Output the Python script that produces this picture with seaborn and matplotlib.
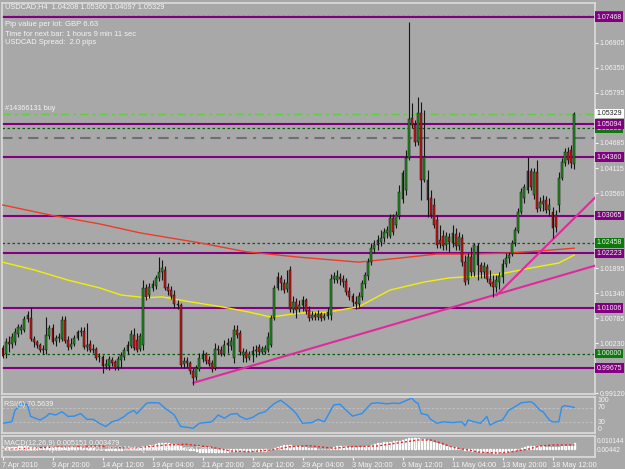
import numpy as np
import pandas as pd
import matplotlib
matplotlib.use('Agg')
import matplotlib.pyplot as plt
import seaborn as sns

# USDCAD H4 candles
opens = [1.0012, 0.9999, 1.0026, 1.0021, 1.0026, 1.0044, 1.0052, 1.0052, 1.0077, 1.0079,
         1.0032, 1.0026, 1.0019, 1.0008, 1.0008, 1.0039, 1.0057, 1.0028, 1.0035, 1.0032,
         1.0075, 1.0030, 1.0015, 1.0021, 1.0035, 1.0048, 1.0050, 1.0015, 1.0021, 1.0008,
         1.0010, 0.9993, 0.9993, 0.9973, 0.9973, 0.9986, 0.9981, 0.9970, 0.9986, 0.9993,
         1.0006, 1.0017, 1.0041, 1.0030, 1.0010, 1.0019, 1.0146, 1.0130, 1.0146, 1.0150,
         1.0168, 1.0181, 1.0186, 1.0148, 1.0141, 1.0130, 1.0110, 1.0108, 0.9977, 0.9984,
         0.9979, 0.9961, 0.9948, 0.9966, 0.9988, 0.9999, 0.9986, 0.9979, 0.9968, 1.0010,
         1.0008, 0.9999, 1.0019, 1.0017, 0.9990, 1.0052, 1.0046, 0.9997, 1.0004, 0.9990,
         0.9997, 1.0006, 1.0015, 1.0004, 1.0004, 1.0008, 1.0019, 1.0079, 1.0146, 1.0168,
         1.0157, 1.0143, 1.0186, 1.0099, 1.0115, 1.0099, 1.0108, 1.0119, 1.0097, 1.0079,
         1.0086, 1.0081, 1.0088, 1.0079, 1.0083, 1.0086, 1.0166, 1.0163, 1.0170, 1.0166,
         1.0161, 1.0139, 1.0128, 1.0115, 1.0110, 1.0126, 1.0155, 1.0172, 1.0203, 1.0232,
         1.0241, 1.0248, 1.0257, 1.0268, 1.0261, 1.0301, 1.0285, 1.0305, 1.0343, 1.0363,
         1.0434, 1.0523, 1.0508, 1.0470, 1.0534, 1.0385, 1.0385, 1.0345, 1.0330, 1.0297,
         1.0252, 1.0261, 1.0241, 1.0259, 1.0246, 1.0265, 1.0239, 1.0257, 1.0203, 1.0163,
         1.0215, 1.0181, 1.0239, 1.0197, 1.0181, 1.0192, 1.0166, 1.0159, 1.0148, 1.0159,
         1.0170, 1.0199, 1.0212, 1.0221, 1.0246, 1.0272, 1.0314, 1.0345, 1.0363, 1.0405,
         1.0352, 1.0403, 1.0323, 1.0339, 1.0341, 1.0319, 1.0314, 1.0308, 1.0330, 1.0390,
         1.0423, 1.0448, 1.0452, 1.04208]
highs = [1.0019, 1.0035, 1.0039, 1.0046, 1.0057, 1.0066, 1.0066, 1.0083, 1.0095, 1.0103,
         1.0039, 1.0030, 1.0024, 1.0019, 1.0081, 1.0064, 1.0066, 1.0041, 1.0046, 1.0083,
         1.0083, 1.0039, 1.0035, 1.0041, 1.0052, 1.0059, 1.0059, 1.0068, 1.0030, 1.0021,
         1.0015, 1.0001, 0.9997, 0.9988, 0.9995, 0.9993, 0.9986, 0.9995, 1.0004, 1.0015,
         1.0028, 1.0052, 1.0057, 1.0046, 1.0046, 1.0163, 1.0155, 1.0157, 1.0163, 1.0175,
         1.0215, 1.0208, 1.0195, 1.0157, 1.0150, 1.0141, 1.0119, 1.0112, 0.9993, 0.9993,
         0.9984, 0.9968, 0.9975, 1.0001, 1.0008, 1.0004, 0.9995, 0.9986, 1.0024, 1.0019,
         1.0017, 1.0030, 1.0035, 1.0037, 1.0064, 1.0064, 1.0052, 1.0012, 1.0010, 1.0006,
         1.0017, 1.0019, 1.0021, 1.0017, 1.0019, 1.0048, 1.0086, 1.0152, 1.0181, 1.0175,
         1.0166, 1.0186, 1.0195, 1.0128, 1.0123, 1.0119, 1.0128, 1.0123, 1.0106, 1.0095,
         1.0092, 1.0097, 1.0092, 1.0090, 1.0101, 1.0177, 1.0181, 1.0186, 1.0179, 1.0175,
         1.0168, 1.0148, 1.0135, 1.0128, 1.0137, 1.0163, 1.0181, 1.0212, 1.0246, 1.0252,
         1.0263, 1.0274, 1.0279, 1.0283, 1.0310, 1.0310, 1.0317, 1.0374, 1.0408, 1.0452,
         1.0736, 1.0556, 1.0519, 1.0570, 1.0559, 1.0541, 1.0408, 1.0363, 1.0345, 1.0308,
         1.0285, 1.0274, 1.0270, 1.0268, 1.0285, 1.0279, 1.0270, 1.0265, 1.0219, 1.0223,
         1.0237, 1.0246, 1.0246, 1.0203, 1.0203, 1.0199, 1.0186, 1.0175, 1.0175, 1.0181,
         1.0210, 1.0223, 1.0226, 1.0252, 1.0281, 1.0323, 1.0368, 1.0377, 1.0437, 1.0412,
         1.0412, 1.0430, 1.0348, 1.0352, 1.0350, 1.0345, 1.0325, 1.0319, 1.0403, 1.0434,
         1.0456, 1.0459, 1.0463, 1.05360]
lows = [0.9990, 0.9990, 1.0004, 1.0012, 1.0019, 1.0037, 1.0044, 1.0048, 1.0070, 1.0028,
        1.0015, 1.0012, 1.0004, 0.9999, 0.9999, 1.0032, 1.0021, 1.0017, 1.0026, 1.0028,
        1.0024, 1.0008, 1.0010, 1.0017, 1.0030, 1.0039, 1.0010, 1.0006, 1.0004, 1.0001,
        0.9986, 0.9981, 0.9957, 0.9966, 0.9964, 0.9973, 0.9964, 0.9964, 0.9968, 0.9986,
        0.9999, 1.0012, 1.0008, 1.0004, 1.0006, 1.0008, 1.0119, 1.0123, 1.0139, 1.0143,
        1.0161, 1.0163, 1.0141, 1.0130, 1.0121, 1.0101, 1.0099, 0.9970, 0.9968, 0.9970,
        0.9955, 0.9930, 0.9941, 0.9961, 0.9981, 0.9977, 0.9973, 0.9959, 0.9964, 0.9999,
        0.9995, 0.9995, 1.0001, 1.0008, 0.9979, 1.0035, 0.9997, 0.9981, 0.9981, 0.9986,
        0.9981, 0.9993, 0.9997, 0.9999, 0.9999, 1.0004, 1.0015, 1.0075, 1.0141, 1.0141,
        1.0135, 1.0137, 1.0092, 1.0090, 1.0079, 1.0092, 1.0095, 1.0088, 1.0072, 1.0075,
        1.0075, 1.0075, 1.0072, 1.0075, 1.0077, 1.0075, 1.0157, 1.0157, 1.0152, 1.0148,
        1.0130, 1.0119, 1.0106, 1.0099, 1.0101, 1.0119, 1.0146, 1.0163, 1.0197, 1.0223,
        1.0230, 1.0239, 1.0248, 1.0257, 1.0257, 1.0263, 1.0279, 1.0299, 1.0334, 1.0352,
        1.0430, 1.0501, 1.0461, 1.0463, 1.0341, 1.0381, 1.0303, 1.0301, 1.0279, 1.0234,
        1.0234, 1.0230, 1.0230, 1.0226, 1.0237, 1.0230, 1.0230, 1.0195, 1.0152, 1.0155,
        1.0172, 1.0172, 1.0163, 1.0168, 1.0168, 1.0159, 1.0150, 1.0126, 1.0137, 1.0143,
        1.0157, 1.0192, 1.0201, 1.0217, 1.0239, 1.0268, 1.0310, 1.0334, 1.0357, 1.0363,
        1.0343, 1.0314, 1.0317, 1.0317, 1.0312, 1.0305, 1.0257, 1.0270, 1.0314, 1.0385,
        1.0416, 1.0421, 1.0412, 1.04097]
closes = [0.9995, 1.0026, 1.0021, 1.0037, 1.0048, 1.0059, 1.0059, 1.0077, 1.0086, 1.0032,
          1.0026, 1.0019, 1.0008, 1.0010, 1.0041, 1.0057, 1.0026, 1.0035, 1.0037, 1.0075,
          1.0028, 1.0015, 1.0021, 1.0035, 1.0048, 1.0050, 1.0015, 1.0019, 1.0008, 1.0010,
          0.9990, 0.9995, 0.9973, 0.9977, 0.9988, 0.9979, 0.9968, 0.9988, 0.9997, 1.0008,
          1.0019, 1.0044, 1.0012, 1.0008, 1.0039, 1.0146, 1.0126, 1.0148, 1.0155, 1.0168,
          1.0181, 1.0190, 1.0146, 1.0139, 1.0128, 1.0110, 1.0108, 0.9975, 0.9984, 0.9979,
          0.9961, 0.9946, 0.9968, 0.9990, 0.9999, 0.9984, 0.9977, 0.9966, 1.0010, 1.0008,
          0.9999, 1.0019, 1.0024, 1.0028, 1.0052, 1.0041, 1.0004, 1.0004, 0.9990, 0.9999,
          1.0006, 1.0008, 1.0004, 1.0010, 1.0012, 1.0037, 1.0079, 1.0146, 1.0170, 1.0157,
          1.0141, 1.0157, 1.0099, 1.0115, 1.0097, 1.0108, 1.0119, 1.0095, 1.0079, 1.0086,
          1.0081, 1.0088, 1.0079, 1.0083, 1.0092, 1.0166, 1.0172, 1.0172, 1.0166, 1.0159,
          1.0137, 1.0126, 1.0115, 1.0110, 1.0128, 1.0157, 1.0175, 1.0203, 1.0234, 1.0241,
          1.0252, 1.0257, 1.0270, 1.0274, 1.0301, 1.0270, 1.0308, 1.0359, 1.0401, 1.0434,
          1.0521, 1.0508, 1.0470, 1.0534, 1.0385, 1.0437, 1.0341, 1.0308, 1.0285, 1.0241,
          1.0243, 1.0239, 1.0261, 1.0248, 1.0268, 1.0239, 1.0259, 1.0203, 1.0159, 1.0215,
          1.0181, 1.0241, 1.0197, 1.0181, 1.0195, 1.0166, 1.0155, 1.0148, 1.0163, 1.0172,
          1.0199, 1.0212, 1.0219, 1.0246, 1.0274, 1.0314, 1.0359, 1.0370, 1.0405, 1.0370,
          1.0403, 1.0321, 1.0337, 1.0332, 1.0319, 1.0330, 1.0279, 1.0281, 1.0390, 1.0425,
          1.0448, 1.0430, 1.0423, 1.05329]

# moving averages (read at a few bars)
ma_red_bars = [0, 15, 31, 44, 63, 78, 95, 114, 127, 139, 150, 161, 172, 183]
ma_red = [1.0330, 1.0308, 1.0288, 1.0268, 1.0246, 1.0226, 1.0214, 1.0203, 1.0212, 1.0221,
          1.0221, 1.0223, 1.0228, 1.0234]
ma_yellow_bars = [0, 10, 21, 31, 38, 46, 51, 60, 70, 79, 86, 95, 104, 114, 124, 135, 143,
                  158, 169, 178, 183]
ma_yellow = [1.0203, 1.0186, 1.0163, 1.0146, 1.0130, 1.0124, 1.0126, 1.0115, 1.0104, 1.0092,
             1.0081, 1.0090, 1.0092, 1.0104, 1.0141, 1.0159, 1.0168, 1.0175, 1.0190, 1.0201,
             1.0219]

# RSI(6)
rsi_bars = [0, 3, 4, 6, 8, 9, 12, 14, 15, 17, 19, 21, 23, 25, 27, 29, 31, 33, 35, 37, 39, 40,
            42, 43, 46, 47, 50, 52, 53, 55, 57, 59, 61, 63, 67, 69, 71, 73, 75, 76, 78, 80, 82,
            84, 87, 89, 91, 93, 94, 96, 99, 101, 103, 106, 108, 110, 112, 115, 118, 120, 123,
            125, 127, 131, 132, 133, 134, 136, 137, 139, 141, 144, 147, 148, 149, 151, 153,
            155, 156, 158, 160, 162, 164, 166, 169, 170, 172, 173, 175, 176, 178, 179, 180,
            182, 183]
rsi_vals = [27, 31, 63, 82, 78, 46, 36, 46, 54, 50, 59, 46, 47, 54, 38, 38, 27, 18, 31, 36,
            46, 54, 63, 54, 82, 84, 84, 69, 63, 50, 18, 16, 13, 27, 31, 50, 41, 52, 54, 46,
            38, 43, 54, 59, 82, 91, 78, 63, 54, 27, 29, 38, 31, 78, 80, 63, 47, 54, 82, 84,
            81, 83, 82, 97, 87, 82, 54, 50, 38, 27, 31, 29, 31, 20, 36, 31, 27, 46, 22, 31,
            36, 63, 73, 84, 87, 82, 63, 59, 36, 31, 31, 73, 76, 73, 70.56]

# MACD(12,26,9), values in 1e-3
macd_main = [0.5, 1.0, 1.2, 1.5, 2.0, 2.3, 2.5, 2.6, 2.4, 1.8, 1.5, 1.2, 1.0, 1.2, 1.6, 1.9,
             1.6, 1.5, 1.6, 2.0, 1.6, 1.2, 1.1, 1.2, 1.4, 1.4, 1.0, 0.9, 0.6, 0.3, -0.1, -0.4,
             -0.8, -1.0, -1.1, -1.1, -1.3, -1.2, -1.0, -0.7, -0.3, 0.2, 0.2, 0.2, 0.3, 1.8, 2.6, 3.3,
             4.0, 4.6, 5.2, 5.5, 5.4, 5.2, 4.9, 4.5, 4.1, 2.3, 1.0, -0.1, -1.0, -1.9, -2.5, -3.0,
             -3.2, -3.4, -3.6, -3.8, -3.6, -3.5, -3.5, -3.3, -3.1, -2.7, -2.5, -2.4, -2.3, -2.3, -2.4, -2.4,
             -2.3, -2.2, -2.2, -2.1, -2.1, -1.6, -0.6, 0.8, 1.9, 2.7, 3.2, 3.6, 3.3, 3.0, 2.6, 2.3,
             1.9, 1.5, 1.0, 0.6, 0.3, 0.0, -0.2, -0.3, -0.2, 0.9, 1.6, 2.2, 2.5, 2.6, 2.4, 2.0,
             1.6, 1.3, 1.2, 1.6, 2.2, 3.0, 3.8, 4.5, 5.1, 5.6, 6.1, 6.5, 7.0, 7.1, 7.3, 7.9,
             8.7, 9.5, 10.4, 10.6, 10.4, 10.6, 9.6, 9.2, 8.5, 7.6, 6.6, 5.4, 4.4, 3.5, 2.8, 2.1,
             1.7, 1.1, 0.6, -0.1, -1.1, -1.6, -2.1, -2.3, -2.6, -3.0, -3.1, -3.5, -3.9, -4.3, -4.3, -4.0,
             -3.5, -3.0, -2.6, -2.0, -1.2, -0.3, 0.8, 1.7, 2.6, 2.8, 2.7, 2.5, 2.3, 2.1, 1.9, 1.7,
             1.3, 1.1, 1.6, 2.1, 2.6, 2.7, 2.9, 5.151]
signal_bars = [0, 15, 31, 41, 47, 52, 59, 67, 73, 79, 86, 92, 98, 106, 111, 120, 127, 133,
               137, 140, 144, 149, 153, 159, 163, 168, 172, 176, 183]
signal_vals = [-0.8, 1.2, 2.5, 0.2, 1.8, 3.5, 4.2, 1.2, -2.5, -3.2, -1.5, 1.8, 2.8, 0.2, 1.8,
               2.5, 5.8, 8.5, 8.5, 5.8, 1.2, -1.5, -3.8, -4.5, -3.2, -0.8, 2.5, 3.5, 3.479]

# chart objects
level_purple = [1.07468, 1.05094, 1.04360, 1.03065, 1.02223, 1.01006, 0.99675]
level_green = [1.07500, 1.05000, 1.02458, 1.00000]
order_price = 1.05329
dashdot_price = 1.0479
trend_bars = [[61, 190], [158, 190]]
trend_prices = [[0.9935, 1.0196], [1.0129, 1.0349]]
axis_prices = [1.06905, 1.06350, 1.05795, 1.04685, 1.04115, 1.03560, 1.01895, 1.01340,
               1.00785, 1.00230, 0.99120]
date_bars = [0, 16, 32, 48, 64, 80, 96, 112, 128, 144, 160, 176]
date_labels = ['7 Apr 2010', '9 Apr 20:00', '14 Apr 12:00', '19 Apr 04:00', '21 Apr 20:00',
               '26 Apr 12:00', '29 Apr 04:00', '3 May 20:00', '6 May 12:00', '11 May 04:00',
               '13 May 20:00', '18 May 12:00']

BG = '#A8A8A8'
FG = '#F4F4F4'
EDGE = '#DCDCDC'
PURPLE = '#800080'
sns.set_style('dark', {'axes.facecolor': BG, 'figure.facecolor': BG})
plt.rcParams['font.family'] = ['Liberation Sans', 'DejaVu Sans']

W, H = 625, 469
def px_box(x0, y0, x1, y1):
    return [x0 / W, 1 - y1 / H, (x1 - x0) / W, (y1 - y0) / H]

fig = plt.figure(figsize=(6.25, 4.69), dpi=100)
fig.patch.set_facecolor(BG)
ax = fig.add_axes(px_box(2, 3, 595, 394))
ax_rsi = fig.add_axes(px_box(2, 397, 595, 433))
ax_macd = fig.add_axes(px_box(2, 436, 595, 457))
XL = (-0.16, 189.6)
for a in (ax, ax_rsi, ax_macd):
    a.set_facecolor(BG)
    a.set_xlim(*XL)
    a.grid(False)
    for s in a.spines.values():
        s.set_color(EDGE)
        s.set_linewidth(1.2)
    a.tick_params(axis='x', bottom=False, labelbottom=False)

df = pd.DataFrame({'o': opens, 'h': highs, 'l': lows, 'c': closes})
df['i'] = np.arange(len(df))
bull = df['c'] >= df['o']

# horizontal objects
for p in level_green:
    ax.axhline(p, color='#0A5A0A', lw=0.9, ls=(0, (2, 2)), zorder=1)
for p in level_purple:
    ax.axhline(p, color=PURPLE, lw=1.5, zorder=2)
ax.axhline(order_price, color='#5CD040', lw=1.0, ls=(0, (6, 3, 2, 3)), zorder=2)
ax.axhline(dashdot_price, color='#6E6E78', lw=1.5, ls=(0, (5, 3, 1.5, 3)), zorder=2)

# moving averages
sns.lineplot(x=ma_red_bars, y=ma_red, ax=ax, color='#F03A2A', lw=1.0, zorder=3)
sns.lineplot(x=ma_yellow_bars, y=ma_yellow, ax=ax, color='#F2F000', lw=1.0, zorder=3)

# trendlines
for tb, tp in zip(trend_bars, trend_prices):
    ax.plot(tb, tp, color='#E02A9C', lw=1.5, zorder=3)

# candles
ax.vlines(df['i'], df['l'], df['h'], color='#151515', lw=0.8, zorder=4)
body = (df['c'] - df['o']).abs().clip(lower=0.00005)
ax.bar(df['i'][bull], body[bull], bottom=df['o'][bull], width=0.62,
       color='#1E901E', edgecolor='#111111', linewidth=0.35, zorder=5)
ax.bar(df['i'][~bull], body[~bull], bottom=df['c'][~bull], width=0.62,
       color='#D01414', edgecolor='#111111', linewidth=0.35, zorder=5)

ax.set_ylim(0.99103, 1.07783)
ax.yaxis.tick_right()
ax.set_yticks(axis_prices, labels=[f'{p:.5f}' for p in axis_prices])
ax.tick_params(axis='y', colors=FG, labelsize=5.0, length=2, width=0.8, pad=1.5)

ytr = ax.get_yaxis_transform()
for p in level_green:
    ax.text(1.003, p, f'{p:.5f}', transform=ytr, fontsize=5.0, color=FG, va='center',
            ha='left', bbox=dict(boxstyle='square,pad=0.2', fc='#0B7A0B', ec='none'),
            clip_on=False, zorder=6)
for p in level_purple:
    ax.text(1.003, p, f'{p:.5f}', transform=ytr, fontsize=5.0, color=FG, va='center',
            ha='left', bbox=dict(boxstyle='square,pad=0.2', fc=PURPLE, ec='none'),
            clip_on=False, zorder=7)
ax.text(1.003, order_price, f'{order_price:.5f}', transform=ytr, fontsize=5.0,
        color='#202020', va='center', ha='left',
        bbox=dict(boxstyle='square,pad=0.2', fc='white', ec='none'), clip_on=False, zorder=7)
ax.text(0.005, order_price + 0.0004, '#14366131 buy', transform=ytr, fontsize=5.2,
        color=FG, va='bottom', ha='left', zorder=6)

# header texts
def ftext(x, y, s, size=5.3):
    fig.text(x / W, 1 - y / H, s, color=FG, fontsize=size, va='center', ha='left')
ftext(5, 7, 'USDCAD,H4  1.04208 1.05360 1.04097 1.05329')
ftext(5, 25, 'Pip value per lot: GBP 6.63', 5.6)
ftext(5, 34, 'Time for next bar: 1 hours 9 min 11 sec', 5.4)
ftext(5, 43, 'USDCAD Spread:  2.0 pips', 5.4)

# RSI panel
ax_rsi.set_ylim(0, 100)
ax_rsi.set_yticks([])
for lv in (70, 30):
    ax_rsi.axhline(lv, color='#C4C4C4', lw=0.6, ls=(0, (3, 2)))
sns.lineplot(x=rsi_bars, y=rsi_vals, ax=ax_rsi, color='#2E8FF0', lw=1.0)
rtr = ax_rsi.get_yaxis_transform()
for v, s, va in [(100, '100', 'top'), (70, '70', 'center'), (30, '30', 'center'), (0, '0', 'bottom')]:
    ax_rsi.text(1.005, v, s, transform=rtr, fontsize=5.0, color=FG, va=va, ha='left',
                clip_on=False)
ax_rsi.text(0.004, 0.8, 'RSI(6) 70.5639', transform=ax_rsi.transAxes, fontsize=5.2,
            color=FG, va='center', ha='left')

# MACD panel
ax_macd.set_ylim(-0.0085, 0.0125)
ax_macd.set_yticks([])
ax_macd.bar(np.arange(len(macd_main)), np.array(macd_main) * 1e-3, width=0.35,
            color='#BABABA', zorder=2)
sns.lineplot(x=signal_bars, y=np.array(signal_vals) * 1e-3, ax=ax_macd, color='#F02020',
             lw=1.0, ls=(0, (1.5, 1.5)), zorder=3)
ax_macd.text(0.004, 0.66, 'MACD(12,26,9) 0.005151 0.003479', transform=ax_macd.transAxes,
             fontsize=5.2, color=FG, va='center', ha='left')
ax_macd.text(0.0, 0.36, 'MetaTrader - Alpari UK, \u00a9 2001-2010 MetaQuotes Software Corp.',
             transform=ax_macd.transAxes, fontsize=5.2, color=FG, va='center', ha='left')
ax_macd.text(1.003, 0.76, '0.010144', transform=ax_macd.transAxes, fontsize=4.8, color=FG,
             va='center', ha='left', clip_on=False)
ax_macd.text(1.003, 0.29, '0.00442', transform=ax_macd.transAxes, fontsize=4.8, color=FG,
             va='center', ha='left', clip_on=False)

ax_macd.set_xticks(date_bars, labels=date_labels)
ax_macd.tick_params(axis='x', bottom=True, labelbottom=True, colors=FG, labelsize=5.3,
                    length=2, width=0.8, pad=1.5)
for lab in ax_macd.get_xticklabels():
    lab.set_ha('left')

fig.savefig('out.png', dpi=100, facecolor=BG)
